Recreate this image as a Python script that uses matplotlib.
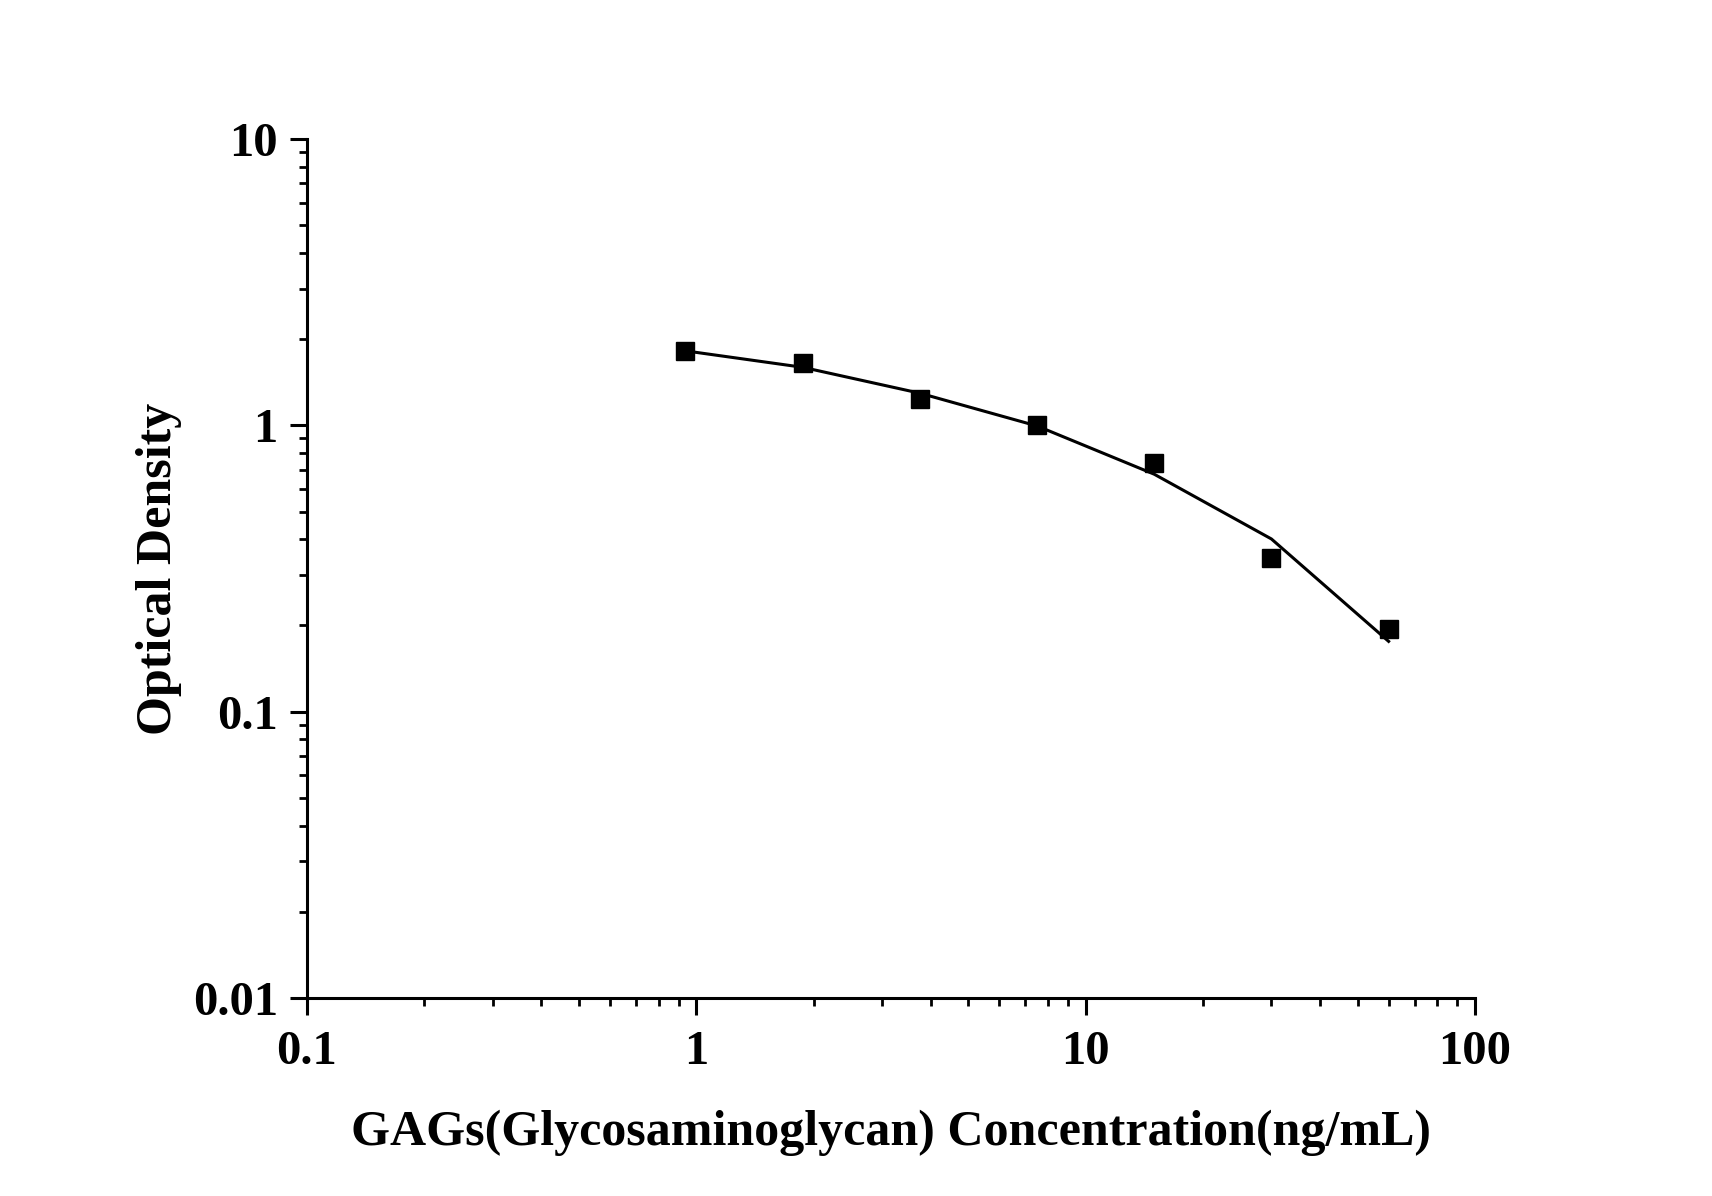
import numpy as np
import matplotlib
matplotlib.use('Agg')
import matplotlib.pyplot as plt
from matplotlib.ticker import LogLocator, NullFormatter, FixedLocator, FixedFormatter

# standard curve data
conc = [0.9375, 1.875, 3.75, 7.5, 15, 30, 60]
od = [1.822, 1.655, 1.232, 1.000, 0.737, 0.343, 0.195]
# fitted curve values at the same concentrations
od_fit = [1.82, 1.595, 1.295, 0.995, 0.675, 0.401, 0.176]

xticks = [0.1, 1, 10, 100]
xticklabels = ['0.1', '1', '10', '100']
yticks = [0.01, 0.1, 1, 10]
yticklabels = ['0.01', '0.1', '1', '10']

xlab = 'GAGs(Glycosaminoglycan) Concentration(ng/mL)'
ylab = 'Optical Density'

plt.rcParams['font.family'] = ['Liberation Serif', 'DejaVu Serif']
plt.rcParams['font.weight'] = 'bold'

fig = plt.figure(figsize=(17.12, 11.96), dpi=100)
ax = fig.add_axes([307/1712, 1-998/1196, (1475-307)/1712, (998-139)/1196])

ax.plot(conc, od_fit, color='black', lw=2.2, zorder=2)
ax.plot(conc, od, ls='none', marker='s', ms=13.5, color='black', zorder=3)

ax.set_xscale('log')
ax.set_yscale('log')
ax.set_xlim(0.1, 100)
ax.set_ylim(0.01, 10)

ax.xaxis.set_major_locator(FixedLocator(xticks))
ax.xaxis.set_major_formatter(FixedFormatter(xticklabels))
ax.yaxis.set_major_locator(FixedLocator(yticks))
ax.yaxis.set_major_formatter(FixedFormatter(yticklabels))
ax.xaxis.set_minor_locator(LogLocator(base=10, subs=np.arange(2, 10)))
ax.yaxis.set_minor_locator(LogLocator(base=10, subs=np.arange(2, 10)))
ax.xaxis.set_minor_formatter(NullFormatter())
ax.yaxis.set_minor_formatter(NullFormatter())

for s in ['top', 'right']:
    ax.spines[s].set_visible(False)
for s in ['left', 'bottom']:
    ax.spines[s].set_linewidth(2.2)

ax.tick_params(which='major', direction='out', length=12, width=2.2, labelsize=35)
ax.tick_params(which='minor', direction='out', length=6, width=2.0)
ax.tick_params(axis='x', which='major', pad=11)
ax.tick_params(axis='y', which='major', pad=9)

ax.set_xlabel(xlab, fontsize=36, fontweight='bold', labelpad=26)
ax.set_ylabel(ylab, fontsize=36, fontweight='bold', labelpad=8)

fig.savefig('out.png', dpi=100, facecolor='white')
